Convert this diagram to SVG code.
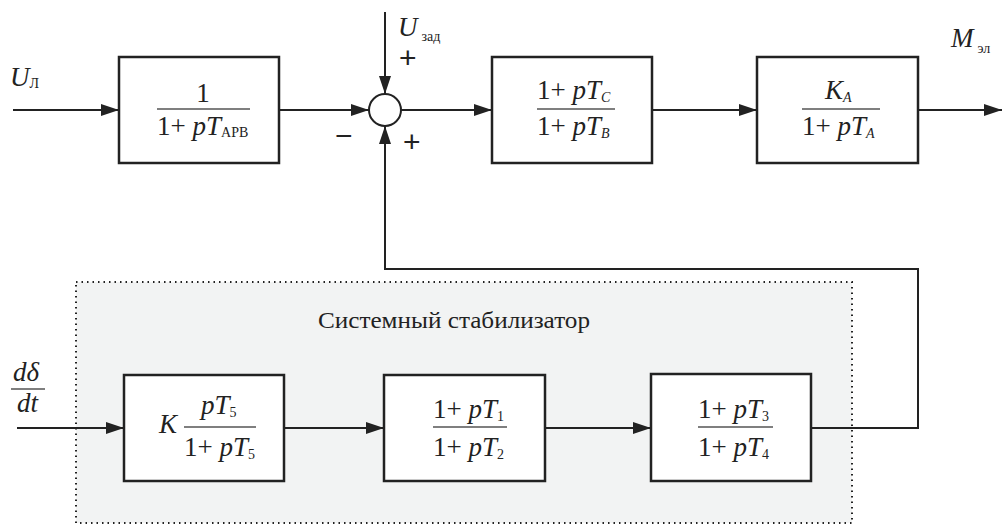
<svg xmlns="http://www.w3.org/2000/svg" width="1004" height="525" viewBox="0 0 1004 525">
  <style>
    .blk { fill: #fff; stroke: #222; stroke-width: 2.5; }
    .ln { fill: none; stroke: #222; stroke-width: 2; }
    .frac { stroke: #555; stroke-width: 1.3; }
    .f { font-size: 27px; fill: #222; }
    .i { font-style: italic; }
    .sub { font-size: 14px; font-style: normal; }
    .subi { font-size: 14px; font-style: italic; }
    .sign { font-size: 30px; fill: #222; }
  </style>
  <defs>
    <marker id="arrow" markerUnits="userSpaceOnUse" markerWidth="20" markerHeight="14" refX="18" refY="6" orient="auto">
      <path d="M0,0 L18,6 L0,12 z" fill="#222"/>
    </marker>
  </defs>

  <!-- stabilizer region -->
  <g id="stabilizer">
    <rect x="76" y="282" width="776" height="241" fill="#f2f3f3" stroke="#222" stroke-width="2" stroke-dasharray="1.5,4"/>
    <text font-family="Liberation Serif, DejaVu Serif, Times New Roman, serif" fill="#222" x="318" y="328" font-size="24" textLength="272" lengthAdjust="spacingAndGlyphs">Системный стабилизатор</text>
  </g>

  <!-- connectors -->
  <g id="connectors">
    <line class="ln" x1="13" y1="110" x2="119" y2="110" marker-end="url(#arrow)"/>
    <line class="ln" x1="279" y1="110" x2="369" y2="110" marker-end="url(#arrow)"/>
    <line class="ln" x1="385" y1="12" x2="385" y2="94" marker-end="url(#arrow)"/>
    <line class="ln" x1="401" y1="110" x2="492" y2="110" marker-end="url(#arrow)"/>
    <line class="ln" x1="652" y1="110" x2="757" y2="110" marker-end="url(#arrow)"/>
    <line class="ln" x1="918" y1="110" x2="1002" y2="110" marker-end="url(#arrow)"/>
    <polyline class="ln" points="811,428 918,428 918,269 385,269 385,126" marker-end="url(#arrow)"/>
    <line class="ln" x1="17" y1="428" x2="124" y2="428" marker-end="url(#arrow)"/>
    <line class="ln" x1="284" y1="428" x2="384" y2="428" marker-end="url(#arrow)"/>
    <line class="ln" x1="545" y1="428" x2="651" y2="428" marker-end="url(#arrow)"/>
  </g>

  <!-- signal labels and formulas share one serif face -->
  <g font-family="Liberation Serif, DejaVu Serif, Times New Roman, serif">
    <g id="labels">
      <text class="f i" x="10" y="86">U<tspan class="sub" font-size="18" dy="2">Л</tspan></text>
      <text class="f i" x="398" y="36">U<tspan class="sub" dx="4" dy="5">зад</tspan></text>
      <text class="f i" x="951" y="47">M<tspan class="sub" dx="4" dy="6">эл</tspan></text>
      <text class="sign" font-family="Liberation Sans, DejaVu Sans, Arial, sans-serif" x="399" y="68">+</text>
      <text class="sign" font-family="Liberation Sans, DejaVu Sans, Arial, sans-serif" x="403" y="152">+</text>
      <text class="sign" font-family="Liberation Sans, DejaVu Sans, Arial, sans-serif" x="335" y="146">−</text>
      <text class="f i" x="13" y="381" font-size="22">dδ</text>
      <line class="frac" x1="11" y1="389" x2="45" y2="389" stroke-width="1.6"/>
      <text class="f i" x="17" y="412" font-size="22">dt</text>
    </g>

    <!-- summing junction -->
    <g id="sum">
      <circle cx="385" cy="110" r="16" fill="#fff" stroke="#222" stroke-width="2"/>
    </g>

    <!-- regulator lag -->
    <g id="block-arv">
      <rect class="blk" x="119" y="57" width="160" height="106"/>
      <text class="f" x="203" y="102" text-anchor="middle">1</text>
      <line class="frac" x1="157" y1="109" x2="250" y2="109"/>
      <text class="f" x="157" y="135">1+ <tspan class="i">pT</tspan><tspan class="sub" font-size="12" dy="2">АРВ</tspan></text>
    </g>

    <!-- lead-lag TC/TB -->
    <g id="block-tc-tb">
      <rect class="blk" x="492" y="57" width="160" height="106"/>
      <text class="f" x="537" y="99">1+ <tspan class="i">pT</tspan><tspan class="subi" dy="3">C</tspan></text>
      <line class="frac" x1="537" y1="109" x2="615" y2="109"/>
      <text class="f" x="537" y="135">1+ <tspan class="i">pT</tspan><tspan class="subi" dy="3">B</tspan></text>
    </g>

    <!-- exciter -->
    <g id="block-exciter">
      <rect class="blk" x="757" y="57" width="161" height="106"/>
      <text class="f i" x="825" y="99">K<tspan class="subi" dy="3">A</tspan></text>
      <line class="frac" x1="802" y1="109" x2="880" y2="109"/>
      <text class="f" x="802" y="135">1+ <tspan class="i">pT</tspan><tspan class="subi" dy="3">A</tspan></text>
    </g>

    <!-- washout -->
    <g id="block-washout">
      <rect class="blk" x="124" y="375" width="160" height="106"/>
      <text class="f i" x="159" y="433">K</text>
      <text class="f i" x="201" y="414">pT<tspan class="sub" dy="3">5</tspan></text>
      <line class="frac" x1="184" y1="427" x2="256" y2="427"/>
      <text class="f" x="184" y="456">1+ <tspan class="i">pT</tspan><tspan class="sub" dy="3">5</tspan></text>
    </g>

    <!-- lead-lag T1/T2 -->
    <g id="block-t1-t2">
      <rect class="blk" x="384" y="375" width="161" height="106"/>
      <text class="f" x="433" y="418">1+ <tspan class="i">pT</tspan><tspan class="sub" dy="3">1</tspan></text>
      <line class="frac" x1="433" y1="427" x2="507" y2="427"/>
      <text class="f" x="433" y="456">1+ <tspan class="i">pT</tspan><tspan class="sub" dy="3">2</tspan></text>
    </g>

    <!-- lead-lag T3/T4 -->
    <g id="block-t3-t4">
      <rect class="blk" x="651" y="374" width="160" height="107"/>
      <text class="f" x="698" y="418">1+ <tspan class="i">pT</tspan><tspan class="sub" dy="3">3</tspan></text>
      <line class="frac" x1="698" y1="427" x2="773" y2="427"/>
      <text class="f" x="698" y="456">1+ <tspan class="i">pT</tspan><tspan class="sub" dy="3">4</tspan></text>
    </g>
  </g>
</svg>
